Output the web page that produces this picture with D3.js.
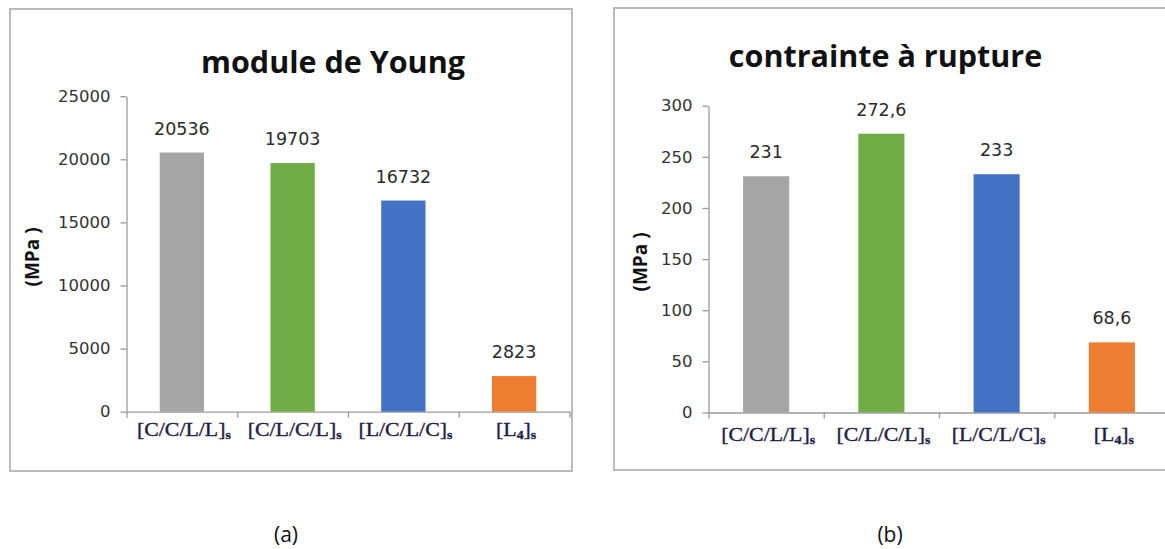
<!DOCTYPE html>
<html>
<head>
<meta charset="utf-8">
<script src="https://cdn.jsdelivr.net/npm/d3@7"></script>
<style>
  html, body { margin: 0; padding: 0; background: #fff; }
  svg { display: block; }
</style>
</head>
<body>
<svg id="chart" width="1165" height="549"></svg>
<script>
// Stacking sequences and measured properties
const categories = ["[C/C/L/L]s", "[C/L/C/L]s", "[L/C/L/C]s", "[L4]s"];
const youngModulus = [20536, 19703, 16732, 2823];
const ruptureStress = [231, 272.6, 233, 68.6];
const youngTicks = [0, 5000, 10000, 15000, 20000, 25000];
const stressTicks = [0, 50, 100, 150, 200, 250, 300];
const barColors = ["#a5a5a5", "#70ad47", "#4472c4", "#ed7d31"];
const panelTitles = ["module de Young", "contrainte à rupture"];
const panelTags = ["(a)", "(b)"];
const unitLabel = "(MPa )";

// French number format: comma decimal, no thousands separator
const fr = d3.formatLocale({ decimal: ",", thousands: "", grouping: [3], currency: ["", " €"] });
const fmtValue = fr.format(".1~f");
const fmtTick = fr.format("d");

// Layout of the two panels
const panels = [
  {
    values: youngModulus, ticks: youngTicks, title: panelTitles[0], tag: panelTags[0],
    frame: { x: 10, y: 9, w: 562, h: 462 },
    plot: { left: 126.5, right: 569.5, top: 96.2, bottom: 411.7 },
    titlePos: { x: 333, y: 73 }, unitPos: { x: 32, y: 257 }, tagPos: { x: 286, y: 542 },
    catBaseline: 436
  },
  {
    values: ruptureStress, ticks: stressTicks, title: panelTitles[1], tag: panelTags[1],
    frame: { x: 614, y: 8, w: 562, h: 462 },
    plot: { left: 708.5, right: 1169.5, top: 105.7, bottom: 412.5 },
    titlePos: { x: 885.5, y: 67 }, unitPos: { x: 640, y: 262 }, tagPos: { x: 890, y: 542 },
    catBaseline: 441
  }
];

const svg = d3.select("#chart");
const axisColor = "#9a9a9a";
const textStretch = 1.15;

function drawPanel(p) {
  const g = svg.append("g");

  // outer frame
  g.append("rect")
    .attr("x", p.frame.x).attr("y", p.frame.y)
    .attr("width", p.frame.w).attr("height", p.frame.h)
    .attr("fill", "none").attr("stroke", "#b4b4b4").attr("stroke-width", 1.8);

  const yMax = d3.max(p.ticks);
  const y = d3.scaleLinear().domain([0, yMax]).range([p.plot.bottom, p.plot.top]);
  const x = d3.scaleBand().domain(categories).range([p.plot.left, p.plot.right]).padding(0);
  const barW = x.bandwidth() * 0.4;

  // title
  g.append("text")
    .attr("x", p.titlePos.x).attr("y", p.titlePos.y)
    .attr("text-anchor", "middle")
    .attr("font-family", "'Open Sans', sans-serif")
    .attr("font-weight", 700).attr("font-size", 30.5)
    .attr("fill", "#111")
    .text(p.title);

  // y axis
  const yAxis = d3.axisLeft(y).tickValues(p.ticks).tickFormat(fmtTick)
    .tickSize(6).tickSizeOuter(0).tickPadding(10);
  const yG = g.append("g").attr("transform", `translate(${p.plot.left},0)`).call(yAxis);
  yG.select(".domain").attr("stroke", axisColor).attr("stroke-width", 1.3);
  yG.selectAll(".tick line").attr("stroke", axisColor).attr("stroke-width", 1.3);
  yG.selectAll(".tick text")
    .attr("font-family", "'DejaVu Sans', sans-serif")
    .attr("font-size", 16.5).attr("fill", "#333");

  // x axis with ticks on category boundaries
  const edge = d3.scaleLinear().domain([0, categories.length]).range([p.plot.left, p.plot.right]);
  const xAxis = d3.axisBottom(edge).tickValues(d3.range(categories.length + 1))
    .tickFormat("").tickSize(6).tickSizeOuter(0);
  const xG = g.append("g").attr("transform", `translate(0,${p.plot.bottom})`).call(xAxis);
  xG.select(".domain").attr("stroke", axisColor).attr("stroke-width", 1.3);
  xG.selectAll(".tick line").attr("stroke", axisColor).attr("stroke-width", 1.3);

  // bars
  g.selectAll("rect.bar").data(p.values).join("rect")
    .attr("class", "bar")
    .attr("x", (d, i) => x(categories[i]) + (x.bandwidth() - barW) / 2)
    .attr("width", barW)
    .attr("y", d => y(d))
    .attr("height", d => y(0) - y(d))
    .attr("fill", (d, i) => barColors[i]);

  // value labels
  g.selectAll("text.val").data(p.values).join("text")
    .attr("class", "val")
    .attr("x", (d, i) => x(categories[i]) + x.bandwidth() / 2)
    .attr("y", d => y(d) - 18)
    .attr("text-anchor", "middle")
    .attr("font-family", "'DejaVu Sans', sans-serif")
    .attr("font-size", 17.5).attr("fill", "#2a2a2a")
    .text(d => fmtValue(d));

  // category labels with subscripts
  categories.forEach(c => {
    const parts = c.split(/(\d+|s$)/).filter(s => s.length);
    const t = g.append("text")
      .attr("transform", `translate(${x(c) + x.bandwidth() / 2 + 2},${p.catBaseline}) scale(${textStretch},1)`)
      .attr("text-anchor", "middle")
      .attr("font-family", "'Liberation Serif', serif")
      .attr("font-size", 19).attr("fill", "#251c45")
      .attr("stroke", "#251c45").attr("stroke-width", 0.35);
    let shifted = false;
    parts.forEach(s => {
      const sub = /^(\d+|s)$/.test(s);
      const ts = t.append("tspan").text(s);
      if (sub) {
        ts.attr("font-size", 12).attr("font-weight", 700);
        if (!shifted) { ts.attr("dy", 3); shifted = true; }
      } else if (shifted) {
        ts.attr("dy", -3); shifted = false;
      }
    });
  });

  // unit label
  g.append("text")
    .attr("transform", `translate(${p.unitPos.x},${p.unitPos.y}) rotate(-90)`)
    .attr("text-anchor", "middle").attr("dy", "0.35em")
    .attr("font-family", "'Open Sans', sans-serif")
    .attr("font-weight", 700).attr("font-size", 19).attr("fill", "#111")
    .text(unitLabel);

  // panel tag
  g.append("text")
    .attr("x", p.tagPos.x).attr("y", p.tagPos.y)
    .attr("text-anchor", "middle")
    .attr("font-family", "'Open Sans', sans-serif")
    .attr("font-size", 21).attr("fill", "#111")
    .text(p.tag);
}

panels.forEach(drawPanel);
</script>
</body>
</html>
